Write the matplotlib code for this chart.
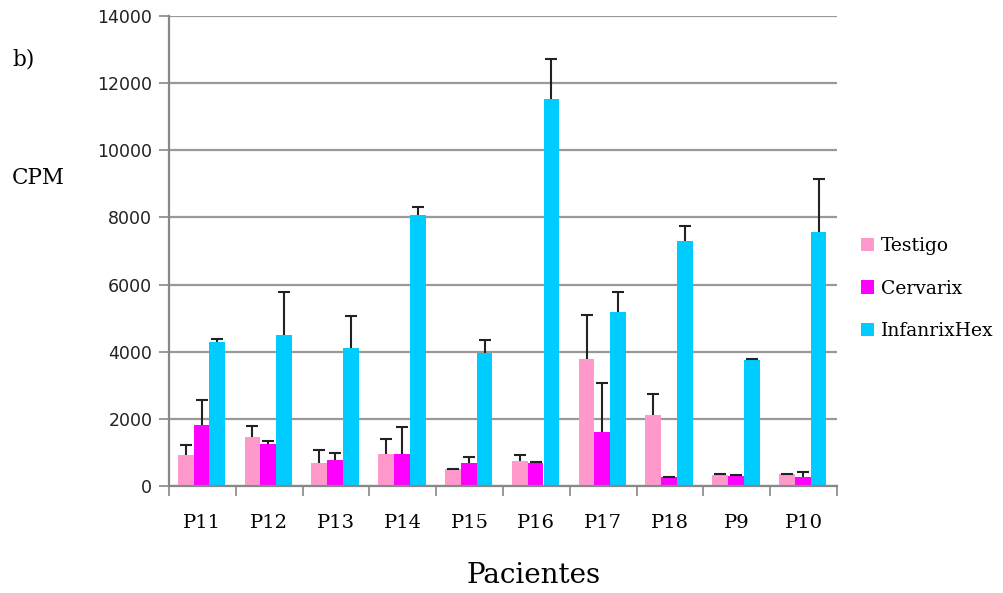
import numpy as np
import matplotlib
matplotlib.use("Agg")
import matplotlib.pyplot as plt

patients = ["P11", "P12", "P13", "P14", "P15", "P16", "P17", "P18", "P9", "P10"]

testigo = [930, 1460, 690, 950, 510, 745, 3780, 2110, 330, 355]
testigo_err = [300, 330, 380, 440, 0, 180, 1320, 630, 25, 0]

cervarix = [1810, 1250, 780, 950, 690, 690, 1610, 268, 300, 270]
cervarix_err = [750, 90, 200, 800, 180, 30, 1450, 0, 25, 150]

infanrix = [4300, 4500, 4100, 8080, 3950, 11530, 5170, 7300, 3750, 7560]
infanrix_err = [80, 1280, 950, 230, 400, 1200, 600, 460, 30, 1580]

series = [
    ("Testigo", testigo, testigo_err, "#ff99cc"),
    ("Cervarix", cervarix, cervarix_err, "#ff00ff"),
    ("InfanrixHex", infanrix, infanrix_err, "#00ccff"),
]

fig = plt.figure(figsize=(10.04, 5.93), dpi=100)
ax = fig.add_axes([0.1683, 0.1804, 0.6654, 0.7926])

x = np.arange(len(patients))
width = 0.235
offsets = [0.25, 0.487, 0.724]
for (name, vals, errs, color), off in zip(series, offsets):
    zeros = np.zeros(len(errs))
    ax.bar(x + off, vals, width, color=color, label=name, zorder=2)
    _, caps, _ = ax.errorbar(x + off, vals, yerr=[zeros, errs], fmt="none",
                             ecolor="#222222", elinewidth=1.5, capsize=4,
                             capthick=1.5, zorder=3)
    # only keep the upper cap
    caps[0].set_visible(False)

ax.set_xlim(0, len(patients))
ax.set_ylim(0, 14000)
ax.set_yticks(np.arange(0, 14001, 2000))
ax.set_xticks(np.arange(0, len(patients) + 1))
ax.set_xticklabels([])
ax.set_xticks(x + 0.5, minor=True)
ax.set_xticklabels(patients, minor=True, family="DejaVu Serif", fontsize=14)
ax.tick_params(axis="x", which="minor", length=0, pad=20)
ax.tick_params(axis="x", which="major", length=7, width=1.2, color="#888888", direction="out")
ax.tick_params(axis="y", length=7, width=1.2, color="#888888", direction="out",
               labelsize=12.5, pad=5)
for lab in ax.get_yticklabels():
    lab.set_family("DejaVu Sans")
    lab.set_color("#222222")

ax.grid(axis="y", color="#999999", linewidth=1.6, zorder=0)
ax.set_axisbelow(True)
for side in ("top", "right"):
    ax.spines[side].set_visible(False)
for side in ("left", "bottom"):
    ax.spines[side].set_color("#888888")
    ax.spines[side].set_linewidth(1.6)

leg = ax.legend(loc="center left", bbox_to_anchor=(1.01, 0.42), frameon=False,
                prop={"family": "DejaVu Serif", "size": 13.5}, handlelength=0.7,
                handleheight=0.7, handletextpad=0.4, labelspacing=1.3)

fig.text(0.012, 0.9, "b)", family="DejaVu Serif", fontsize=15.5, va="center")
fig.text(0.012, 0.7, "CPM", family="DejaVu Serif", fontsize=15.5, va="center")
fig.text(0.531, 0.03, "Pacientes", family="DejaVu Serif", fontsize=20, ha="center", va="center")

fig.savefig("out.png", dpi=100)
